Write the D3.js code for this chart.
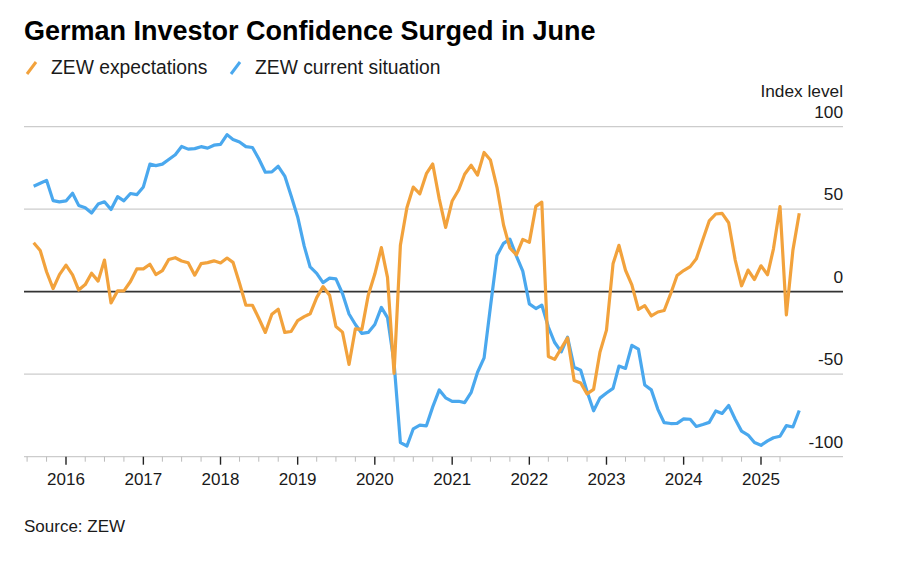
<!DOCTYPE html>
<html>
<head>
<meta charset="utf-8">
<script src="https://cdn.jsdelivr.net/npm/d3@7"></script>
<style>
  body { margin: 0; background: #fff; }
  svg text { font-family: "Liberation Sans", Arial, Helvetica, sans-serif; fill: #1a1a1a; }
</style>
</head>
<body>
<svg id="chart" width="900" height="565"></svg>
<script>
// monthly readings, Jul 2015 .. Jun 2025
var startYear = 2015, startMonth = 6; // July (0-based)

var expectations = [
  29.7, 25.0, 12.1, 1.9, 10.4, 16.1,
  10.2, 1.0, 4.3, 11.2, 6.4, 19.2, -6.8, 0.5, 0.5, 6.2, 13.8, 13.8,
  16.6, 10.4, 12.8, 19.5, 20.6, 18.6, 17.5, 10.0, 17.0, 17.6, 18.7, 17.4,
  20.4, 17.8, 5.1, -8.2, -8.2, -16.1, -24.7, -13.7, -10.6, -24.7, -24.1, -17.5,
  -15.1, -13.4, -3.6, 3.1, -2.1, -21.1, -24.5, -44.1, -22.5, -22.8, -2.1, 10.7,
  26.7, 8.7, -49.5, 28.2, 51.0, 63.4, 59.3, 71.5, 77.4, 56.1, 39.0, 55.0,
  61.8, 71.2, 76.6, 70.7, 84.4, 79.8, 63.3, 40.4, 26.5, 22.3, 31.7, 29.9,
  51.7, 54.3, -39.3, -41.0, -34.3, -28.0, -53.8, -55.3, -61.9, -59.2, -36.7, -23.3,
  16.9, 28.1, 13.0, 4.1, -10.7, -8.5, -14.7, -12.3, -11.4, -1.1, 9.8, 12.8,
  15.2, 19.9, 31.7, 42.9, 47.1, 47.5, 41.8, 19.2, 3.6, 13.1, 7.4, 15.7,
  10.3, 26.0, 51.6, -14.0, 25.2, 47.5
];

var currentSituation = [
  63.9, 65.7, 67.5, 55.2, 54.4, 55.0,
  59.7, 52.3, 50.9, 47.7, 53.1, 54.5, 49.8, 57.6, 55.1, 59.5, 58.8, 63.5,
  77.3, 76.4, 77.3, 80.1, 83.0, 88.0, 86.4, 86.7, 87.9, 87.0, 88.8, 89.3,
  95.2, 92.3, 90.7, 87.9, 87.4, 80.6, 72.4, 72.6, 76.0, 70.1, 58.2, 45.3,
  27.6, 15.0, 11.1, 5.5, 8.2, 7.8, -1.1, -13.5, -19.9, -25.3, -24.7, -19.9,
  -9.5, -15.7, -43.1, -91.5, -93.5, -83.1, -80.9, -81.3, -69.8, -59.5, -64.3, -66.5,
  -66.4, -67.2, -61.0, -48.8, -40.1, -9.1, 21.9, 29.3, 31.9, 21.6, 12.5, -7.4,
  -10.2, -8.1, -21.4, -30.8, -36.5, -27.6, -45.8, -47.6, -60.5, -72.2, -64.5, -61.4,
  -58.6, -45.1, -46.5, -32.5, -34.8, -56.5, -59.5, -71.3, -79.4, -79.9, -79.8, -77.1,
  -77.3, -81.7, -80.5, -79.2, -72.3, -73.8, -68.9, -77.3, -84.5, -86.9, -91.4, -93.1,
  -90.4, -88.5, -87.6, -81.2, -82.0, -72.0
];

var seriesNames = ["ZEW expectations", "ZEW current situation"];
var seriesColors = ["#F2A23C", "#4AA8EE"];
var yTicks = [100, 50, 0, -50, -100];
var yearTicks = [2016, 2017, 2018, 2019, 2020, 2021, 2022, 2023, 2024, 2025];

var svg = d3.select("#chart");
var plotLeft = 24, plotRight = 843, plotTop = 126.7, plotBottom = 456.7;

// points sit at the end of each month
function monthDate(i) { return new Date(startYear, startMonth + i + 1, 1); }

var x = d3.scaleTime()
  .domain([new Date(2016, 0, 1), new Date(2025, 0, 1)])
  .range([66, 761]);
var y = d3.scaleLinear().domain([-100, 100]).range([plotBottom, plotTop]);

// title
svg.append("text").attr("x", 24).attr("y", 40)
  .style("font-size", "27px").style("font-weight", "bold").style("fill", "#000")
  .text("German Investor Confidence Surged in June");

// legend
var legX = [26, 230];
seriesNames.forEach(function (name, i) {
  var g = svg.append("g").attr("transform", "translate(" + legX[i] + ",0)");
  g.append("line").attr("x1", 1).attr("y1", 74).attr("x2", 10).attr("y2", 62)
    .attr("stroke", seriesColors[i]).attr("stroke-width", 3);
  g.append("text").attr("x", 25).attr("y", 73.5).style("font-size", "19.3px").text(name);
});

// grid
svg.append("g").selectAll("line").data(yTicks.filter(function (d) { return d !== 0 && d !== -100; }))
  .join("line")
  .attr("x1", plotLeft).attr("x2", plotRight)
  .attr("y1", function (d) { return y(d); }).attr("y2", function (d) { return y(d); })
  .attr("stroke", "#cccccc").attr("stroke-width", 1.2);

svg.append("text").attr("x", plotRight).attr("y", 97).attr("text-anchor", "end")
  .style("font-size", "17.3px").text("Index level");
svg.append("g").selectAll("text").data(yTicks).join("text")
  .attr("x", plotRight).attr("y", function (d) { return y(d) - 9; })
  .attr("text-anchor", "end").style("font-size", "17.3px")
  .text(function (d) { return d; });

// x axis
var minorTicks = d3.timeMonth.every(3).range(new Date(2015, 6, 1), new Date(2025, 4, 1));
var xg = svg.append("g");
xg.append("line").attr("x1", plotLeft).attr("x2", plotRight).attr("y1", plotBottom).attr("y2", plotBottom)
  .attr("stroke", "#cccccc").attr("stroke-width", 1.2);
xg.selectAll("line.tk").data(minorTicks).join("line").attr("class", "tk")
  .attr("x1", function (d) { return x(d); }).attr("x2", function (d) { return x(d); })
  .attr("y1", plotBottom)
  .attr("y2", function (d) { return d.getMonth() === 0 ? plotBottom + 8 : plotBottom + 5; })
  .attr("stroke", function (d) { return d.getMonth() === 0 ? "#222" : "#bbb"; })
  .attr("stroke-width", function (d) { return d.getMonth() === 0 ? 1.4 : 1; });
xg.selectAll("text").data(yearTicks).join("text")
  .attr("x", function (d) { return x(new Date(d, 0, 1)); }).attr("y", 485)
  .attr("text-anchor", "middle").style("font-size", "17px")
  .text(function (d) { return d; });

// zero line
svg.append("line").attr("x1", plotLeft).attr("x2", plotRight).attr("y1", y(0)).attr("y2", y(0))
  .attr("stroke", "#333").attr("stroke-width", 1.8);

// lines
var line = d3.line()
  .x(function (d, i) { return x(monthDate(i)); })
  .y(function (d) { return y(d); });

[currentSituation, expectations].forEach(function (vals, k) {
  svg.append("path").datum(vals)
    .attr("fill", "none")
    .attr("stroke", seriesColors[1 - k])
    .attr("stroke-width", 3.2)
    .attr("stroke-linejoin", "round")
    .attr("d", line);
});

// source
svg.append("text").attr("x", 24).attr("y", 532).style("font-size", "17px").text("Source: ZEW");
</script>
</body>
</html>
